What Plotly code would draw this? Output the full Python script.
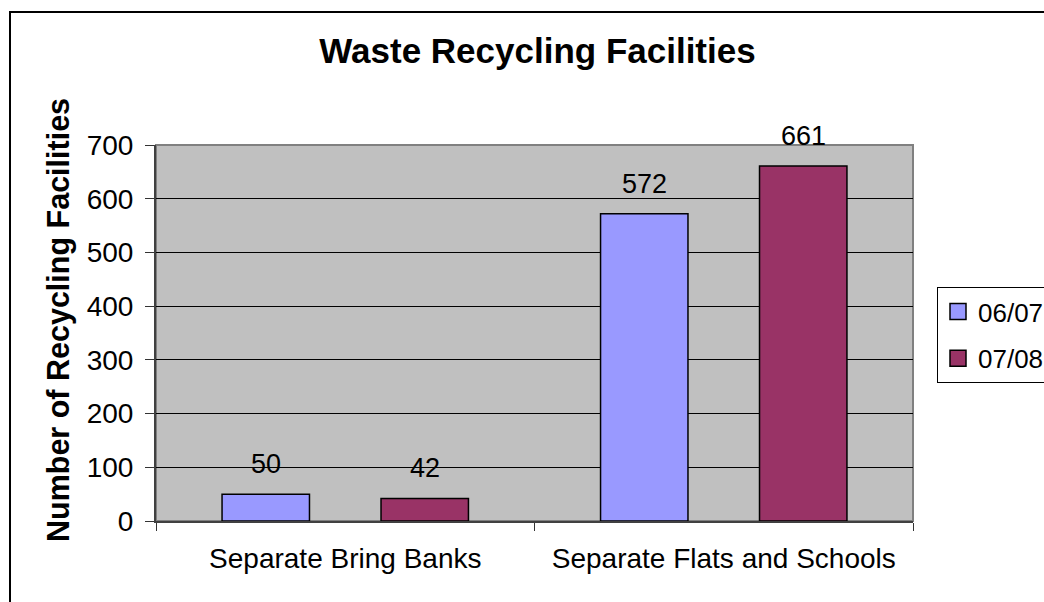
import plotly.graph_objects as go

# Chart data
categories = ["Separate Bring Banks", "Separate Flats and Schools"]
series_names = ["06/07", "07/08"]
values_0607 = [50, 572]
values_0708 = [42, 661]
bar_colors = ["#9999FF", "#993366"]
y_ticks = [0, 100, 200, 300, 400, 500, 600, 700]

W, H = 1044, 602
M_L, M_R, M_T, M_B = 156, 131, 145, 81
plot_w = W - M_L - M_R
plot_h = H - M_T - M_B

BARGAP = 0.16
BARGROUPGAP = 0.45
FONT = "Liberation Sans, Arial, sans-serif"

fig = go.Figure()
series = [values_0607, values_0708]
for i, (name, vals) in enumerate(zip(series_names, series)):
    fig.add_trace(go.Bar(
        x=categories, y=vals, name=name,
        marker=dict(color=bar_colors[i], line=dict(color="black", width=1.5)),
        showlegend=False, legendgroup=name,
    ))
    # legend entry with a larger square swatch
    fig.add_trace(go.Scatter(
        x=[None], y=[None], mode="markers", name=name, legendgroup=name,
        marker=dict(symbol="square", size=16, color=bar_colors[i],
                    line=dict(color="black", width=1.5)),
        showlegend=True,
    ))

# value labels above each bar, shifted to the bar's slot within its group
cat_px = plot_w / len(categories)
slot_px = cat_px * (1 - BARGAP) / len(series)
for i, vals in enumerate(series):
    xshift = (i - (len(series) - 1) / 2) * slot_px
    for cat, v in zip(categories, vals):
        fig.add_annotation(
            x=cat, y=v, text=str(v), showarrow=False,
            xshift=xshift, yshift=30, yanchor="middle",
            font=dict(family=FONT, size=27, color="black"),
        )

# y-axis title
fig.add_annotation(
    xref="paper", yref="paper", x=(58 - M_L) / plot_w, y=(H - M_B - 320) / plot_h,
    text="<b>Number of Recycling Facilities</b>", textangle=-90, showarrow=False,
    xanchor="center", yanchor="middle",
    font=dict(family=FONT, size=30.5, color="black"),
)

# outer chart border and plot-area frame
fig.add_shape(type="rect", xref="paper", yref="paper",
              x0=(10 - M_L) / plot_w, x1=(W + 20 - M_L) / plot_w,
              y0=(H - M_B - (H + 20)) / plot_h, y1=(H - M_B - 12) / plot_h,
              line=dict(color="black", width=2), fillcolor="rgba(0,0,0,0)", layer="below")
fig.add_shape(type="rect", xref="paper", yref="paper", x0=0, x1=1, y0=0, y1=1,
              line=dict(color="#808080", width=2), layer="below")

fig.update_layout(
    width=W, height=H,
    margin=dict(l=M_L, r=M_R, t=M_T, b=M_B, autoexpand=False),
    paper_bgcolor="white", plot_bgcolor="#C0C0C0",
    barmode="group", bargap=BARGAP, bargroupgap=BARGROUPGAP,
    title=dict(text="<b>Waste Recycling Facilities</b>", x=537.5 / W, xanchor="center",
               y=1 - 51 / H, yanchor="middle", yref="container",
               font=dict(family=FONT, size=35, color="black")),
    font=dict(family=FONT, color="black"),
    legend=dict(x=(937 - M_L) / plot_w, y=(H - M_B - 287) / plot_h,
                xanchor="left", yanchor="top",
                bordercolor="black", borderwidth=1, bgcolor="white",
                font=dict(family=FONT, size=26, color="black"),
                tracegroupgap=10),
    xaxis=dict(type="category", tickson="boundaries", ticks="outside", ticklen=8,
               tickcolor="#333333", showline=True, linecolor="#404040", linewidth=2,
               tickfont=dict(family=FONT, size=28, color="black"),
               showgrid=False, ticklabelstandoff=11),
    yaxis=dict(range=[0, 700], tickvals=y_ticks, ticks="outside", ticklen=9,
               tickcolor="#333333", showline=True, linecolor="#404040", linewidth=2,
               showgrid=True, gridcolor="black", gridwidth=1, zeroline=False,
               tickfont=dict(family=FONT, size=28, color="black"),
               ticklabelstandoff=6),
)

fig.write_html("out.html")
